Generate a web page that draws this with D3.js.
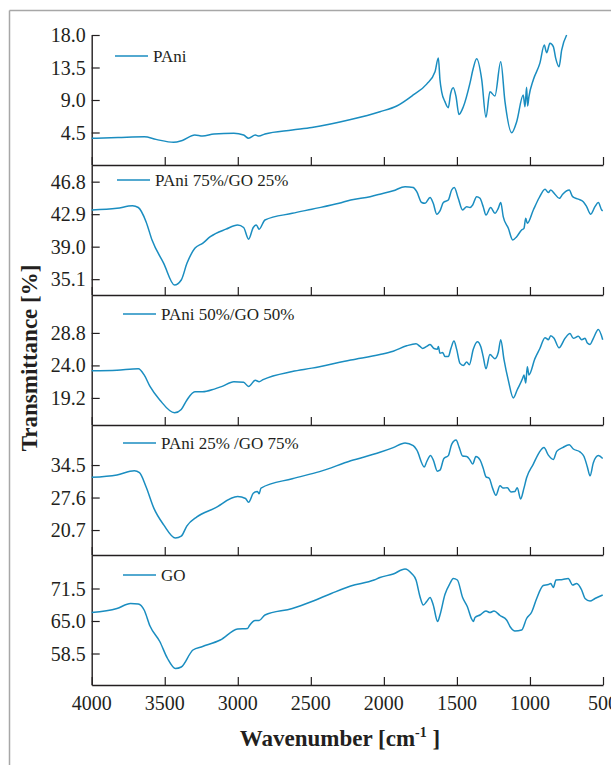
<!DOCTYPE html>
<html><head><meta charset="utf-8">
<script src="https://cdn.jsdelivr.net/npm/d3@7"></script>
<style>html,body{margin:0;padding:0;background:#fff;}svg{display:block;}</style>
</head><body>
<svg id="chart" width="611" height="765"></svg>
<script>
// ---------------- DATA ----------------
const seriesNames = ["PAni", "PAni 75%/GO 25%", "PAni 50%/GO 50%", "PAni 25% /GO 75%", "GO"];
const xTicks = [4000, 3500, 3000, 2500, 2000, 1500, 1000, 500];
const yTicks1 = [4.5, 9.0, 13.5, 18.0];
const yTicks2 = [35.1, 39.0, 42.9, 46.8];
const yTicks3 = [19.2, 24.0, 28.8];
const yTicks4 = [20.7, 27.6, 34.5];
const yTicks5 = [58.5, 65.0, 71.5];
const yDomain1 = [0, 18];
const yDomain2 = [33.2, 48.8];
const yDomain3 = [15.2, 34.4];
const yDomain4 = [15.4, 43.0];
const yDomain5 = [52.2, 78.2];

const pani_wn = [4000,3820,3640,3560,3440,3380,3294,3241,3163,3027,2960,2926,2880,2855,2814,2627,2493,2227,2027,1912,1799,1707,1650,1627,1616,1604,1582,1559,1543,1525,1506,1486,1456,1411,1388,1365,1330,1301,1274,1240,1200,1171,1125,1091,1046,1034,1023,1016,1007,977,932,902,886,863,840,824,801,783,749];
const pani_t  = [3.7,3.8,3.9,3.55,3.14,3.4,4.15,4.0,4.3,4.4,4.15,3.7,4.15,4.0,4.3,4.85,5.2,6.3,7.38,8.17,9.7,11.2,12.9,14.8,11.8,10.1,8.77,7.94,9.9,10.7,9.46,7.0,8.07,11.3,13.4,14.7,11.8,6.6,10.15,9.55,14.3,8.77,4.47,6.0,9.7,8.07,10.76,8.17,9.46,11.8,14.1,16.6,15.55,16.85,16.4,14.8,13.6,15.9,18.0];

const p75_wn = [4000,3827,3721,3681,3628,3587,3507,3433,3387,3348,3294,3241,3188,3081,3001,2960,2926,2894,2873,2854,2814,2627,2493,2307,2227,2094,2027,1936,1855,1799,1775,1741,1718,1684,1662,1638,1616,1593,1559,1536,1518,1491,1461,1433,1411,1392,1365,1342,1320,1301,1269,1240,1217,1200,1183,1148,1118,1091,1057,1041,1029,1018,977,936,897,874,858,829,799,776,731,708,669,635,612,584,555,532,509,502];
const p75_t  = [43.4,43.6,43.9,43.7,42.0,39.8,37.0,34.4,35.0,37.0,38.8,39.4,40.2,41.1,41.6,41.3,39.9,41.3,41.6,41.1,42.2,43.0,43.5,44.2,44.6,45.0,45.3,45.7,46.2,46.1,45.6,44.3,44.2,44.9,44.2,42.9,43.3,44.3,44.6,45.8,46.1,44.8,43.4,43.8,43.7,44.0,45.0,44.8,43.8,42.8,43.7,43.0,43.6,44.3,42.6,41.2,39.8,40.2,41.0,41.2,42.4,41.8,43.4,44.9,45.9,45.5,45.8,45.3,44.8,45.3,45.8,45.0,44.7,44.4,43.8,42.9,43.8,44.3,43.4,43.3];

const p50_wn = [4000,3827,3681,3641,3601,3534,3433,3387,3348,3294,3241,3161,3107,3027,2960,2926,2880,2854,2827,2627,2493,2227,2027,1936,1844,1780,1753,1734,1707,1684,1657,1634,1627,1616,1597,1582,1559,1541,1520,1502,1479,1456,1433,1415,1388,1360,1337,1320,1301,1274,1240,1217,1200,1178,1148,1114,1087,1050,1041,1029,1018,1007,966,932,897,874,858,835,801,760,726,703,669,646,623,607,589,566,532,502];
const p50_t  = [23.2,23.3,23.5,22.6,20.9,18.9,17.0,17.5,18.9,20.1,20.1,20.5,20.9,21.6,21.5,20.9,21.8,21.6,21.9,23.1,23.6,24.8,25.6,26.1,26.9,27.2,26.8,26.5,26.8,27.1,26.5,26.4,26.8,25.8,25.9,25.3,25.3,26.5,27.6,26.4,24.3,24.0,24.5,24.1,26.4,27.5,26.8,25.3,23.5,25.6,25.0,25.9,27.8,24.9,21.8,19.2,20.4,22.1,22.6,21.4,23.8,22.6,25.0,26.5,28.1,27.8,28.4,28.0,26.6,28.0,28.7,28.0,28.3,27.8,28.0,27.3,27.1,28.0,29.3,27.8];

const p25_wn = [4000,3827,3708,3673,3628,3574,3507,3427,3387,3348,3280,3161,3001,2947,2926,2894,2865,2854,2841,2627,2440,2227,2027,1936,1855,1799,1775,1723,1707,1680,1662,1634,1616,1589,1559,1536,1506,1484,1461,1433,1411,1392,1370,1342,1320,1301,1279,1256,1233,1205,1183,1155,1130,1103,1087,1064,1041,1023,977,936,904,874,840,817,776,731,703,658,630,607,589,566,532,502];
const p25_t  = [31.9,32.4,33.3,32.9,29.9,25.3,21.8,19.0,19.4,21.6,23.5,25.3,27.8,27.4,26.6,28.5,28.9,28.4,29.6,31.6,33.1,35.4,37.2,38.2,39.2,38.6,37.7,34.1,35.2,36.5,35.6,33.2,33.4,35.9,36.5,38.9,39.8,38.2,36.4,36.3,35.6,34.7,36.3,35.6,33.8,32.0,31.7,29.6,28.1,30.1,29.6,29.7,28.8,28.9,29.7,27.3,29.6,31.8,34.7,37.2,38.2,36.6,35.7,37.4,38.2,38.8,37.9,37.3,36.3,34.1,32.2,35.0,36.5,35.9];

const go_wn = [4000,3827,3734,3681,3641,3601,3534,3481,3427,3387,3307,3241,3120,3001,2933,2920,2880,2854,2814,2627,2493,2360,2227,2067,2027,1936,1855,1810,1780,1753,1730,1707,1684,1662,1632,1616,1582,1548,1525,1497,1461,1429,1399,1388,1376,1342,1301,1274,1246,1205,1160,1132,1103,1057,1023,988,954,909,874,858,840,822,776,738,708,680,646,623,589,555,502];
const go_t  = [66.7,67.5,68.5,68.4,67.2,64.0,60.9,57.5,55.5,55.8,59.2,59.9,61.2,63.4,63.5,64.1,65.1,65.1,66.2,67.5,68.9,70.5,72.0,73.2,73.7,74.4,75.4,74.5,73.2,69.9,68.2,68.9,69.7,68.2,64.9,66.2,70.3,72.5,73.5,73.2,69.7,67.9,65.4,64.9,65.7,66.2,67.0,66.7,67.0,66.1,65.2,63.7,63.0,63.2,65.5,66.8,69.5,72.1,72.3,72.5,71.7,73.2,73.3,73.5,72.2,72.5,71.2,69.5,69.0,69.5,70.2];

// ---------------- LAYOUT ----------------
const panelWn = [pani_wn, p75_wn, p50_wn, p25_wn, go_wn];
const panelT = [pani_t, p75_t, p50_t, p25_t, go_t];
const panelTicks = [yTicks1, yTicks2, yTicks3, yTicks4, yTicks5];
const panelDomains = [yDomain1, yDomain2, yDomain3, yDomain4, yDomain5];
const legendDy = [21, 15, 19, 18, 20];
const legendX = [115, 117, 123, 123, 123];

const W = 611, H = 765;
const left = 91.7, right = 603, top0 = 35, panelH = 130;
const lineColor = "#1a8dc0";
const axisColor = "#231f20";
const serif = "'Liberation Serif', 'Times New Roman', serif";

const svg = d3.select("#chart");

// frame
svg.append("line").attr("x1", 9.5).attr("x2", W).attr("y1", 10.5).attr("y2", 10.5)
  .attr("stroke", "#a7a7a7").attr("stroke-width", 1.5);
svg.append("line").attr("x1", 9.5).attr("x2", 9.5).attr("y1", 10.5).attr("y2", H)
  .attr("stroke", "#a7a7a7").attr("stroke-width", 1.5);

const x = d3.scaleLinear().domain([4000, 500]).range([left, right]);

seriesNames.forEach((name, i) => {
  const y0 = top0 + i * panelH;
  const y1 = y0 + panelH;
  const y = d3.scaleLinear().domain(panelDomains[i]).range([y1, y0]);
  const g = svg.append("g");

  // bottom axis with inward ticks
  const xa = d3.axisTop(x).tickValues(xTicks).tickSize(8).tickSizeOuter(0).tickFormat(i === 4 ? null : "");
  const gx = g.append("g").attr("transform", `translate(0,${y1})`).call(xa);
  gx.select(".domain").attr("stroke", axisColor).attr("stroke-width", 1.4);
  gx.selectAll(".tick line").attr("stroke", axisColor).attr("stroke-width", 1.2);
  gx.selectAll(".tick text").remove();
  if (i === 4) {
    g.append("g").selectAll("text").data(xTicks).join("text")
      .attr("x", d => x(d)).attr("y", y1 + 25)
      .attr("text-anchor", "middle")
      .attr("font-family", serif).attr("font-size", 20).attr("fill", axisColor)
      .text(d => d);
  }

  // left axis with inward ticks
  const ya = d3.axisRight(y).tickValues(panelTicks[i]).tickSize(8).tickSizeOuter(0).tickFormat("");
  const gy = g.append("g").attr("transform", `translate(${left},0)`).call(ya);
  gy.select(".domain").attr("stroke", axisColor).attr("stroke-width", 1.4);
  gy.selectAll(".tick line").attr("stroke", axisColor).attr("stroke-width", 1.2);
  g.append("g").selectAll("text").data(panelTicks[i]).join("text")
    .attr("x", left - 6).attr("y", d => y(d) + 7)
    .attr("text-anchor", "end")
    .attr("font-family", serif).attr("font-size", 20).attr("fill", axisColor)
    .text(d => d3.format(".1f")(d));

  // curve
  const pts = panelWn[i].map((w, k) => [w, panelT[i][k]]);
  const line = d3.line().x(d => x(d[0])).y(d => y(d[1])).curve(d3.curveMonotoneX);
  g.append("path").datum(pts).attr("d", line)
    .attr("fill", "none").attr("stroke", lineColor).attr("stroke-width", 1.5)
    .attr("stroke-linejoin", "round");

  // legend
  const ly = y0 + legendDy[i];
  g.append("line").attr("x1", legendX[i]).attr("x2", legendX[i] + 33)
    .attr("y1", ly).attr("y2", ly).attr("stroke", lineColor).attr("stroke-width", 1.5);
  g.append("text").attr("x", legendX[i] + 38).attr("y", ly + 6)
    .attr("font-family", serif).attr("font-size", 17).attr("fill", axisColor)
    .text(name);
});

// axis titles
const xt = svg.append("text").attr("x", 340).attr("y", 746).attr("text-anchor", "middle")
  .attr("font-family", serif).attr("font-size", 23).attr("font-weight", "bold").attr("fill", axisColor);
xt.append("tspan").text("Wavenumber [cm");
xt.append("tspan").attr("font-size", 14).attr("dy", -9).text("-1");
xt.append("tspan").attr("dy", 9).text(" ]");

svg.append("text").attr("transform", "translate(37,358) rotate(-90)")
  .attr("text-anchor", "middle")
  .attr("font-family", serif).attr("font-size", 23).attr("font-weight", "bold").attr("fill", axisColor)
  .text("Transmittance [%]");
</script>
</body></html>
